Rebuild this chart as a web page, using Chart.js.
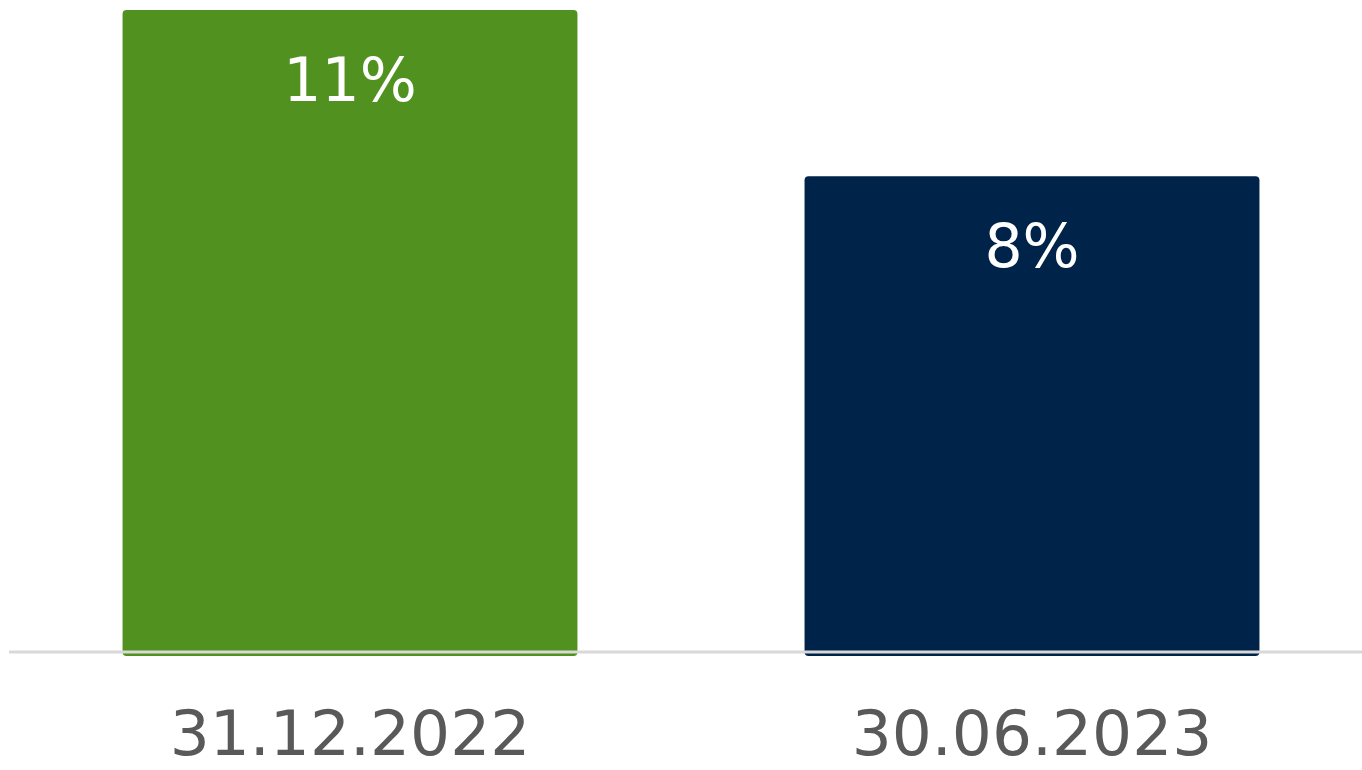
<!DOCTYPE html>
<html>
<head>
<meta charset="utf-8">
<script src="https://cdn.jsdelivr.net/npm/chart.js@4"></script>
<style>
    html, body { margin: 0; padding: 0; background: #fff; overflow: hidden; }
    #chart { display: block; }
</style>
</head>
<body>
<canvas id="chart" width="1373" height="770"></canvas>
<script>
// Categories and values
const categories = ['31.12.2022', '30.06.2023'];
const values = [11.2, 8.3];
const valueLabels = ['11%', '8%'];
const barColors = ['#50911f', '#002349'];

const fontFamily = '"DejaVu Sans", Verdana, sans-serif';

// Grey base line drawn over the bars, plus the white labels inside each bar
const overlayPlugin = {
    id: 'overlay',
    afterDatasetsDraw(chart) {
        const ctx = chart.ctx;
        const area = chart.chartArea;
        const y0 = chart.scales.y.getPixelForValue(0);
        ctx.save();
        ctx.strokeStyle = '#d9d9d9';
        ctx.lineWidth = 3;
        ctx.beginPath();
        ctx.moveTo(area.left, y0);
        ctx.lineTo(area.right, y0);
        ctx.stroke();

        ctx.fillStyle = '#ffffff';
        ctx.font = '60px ' + fontFamily;
        ctx.textAlign = 'center';
        ctx.textBaseline = 'alphabetic';
        chart.getDatasetMeta(0).data.forEach((bar, i) => {
            ctx.fillText(valueLabels[i], bar.x, bar.y + 91);
        });
        ctx.restore();
    }
};

new Chart(document.getElementById('chart'), {
    type: 'bar',
    data: {
        labels: categories,
        datasets: [{
            data: values,
            backgroundColor: barColors,
            borderRadius: 4,
            borderSkipped: false,
            base: -0.07,
            categoryPercentage: 1,
            barPercentage: 0.667
        }]
    },
    options: {
        responsive: false,
        animation: false,
        layout: { padding: { top: 10, left: 9, right: 0, bottom: 0 } },
        plugins: {
            legend: { display: false },
            tooltip: { enabled: false }
        },
        scales: {
            x: {
                grid: { display: false, drawTicks: false },
                border: { display: false },
                ticks: {
                    color: '#595959',
                    padding: 45,
                    font: { family: fontFamily, size: 63 }
                },
                afterFit(scale) {
                    scale.height = 114;
                }
            },
            y: {
                display: false,
                min: -0.07,
                max: 11.2
            }
        }
    },
    plugins: [overlayPlugin]
});
</script>
</body>
</html>
